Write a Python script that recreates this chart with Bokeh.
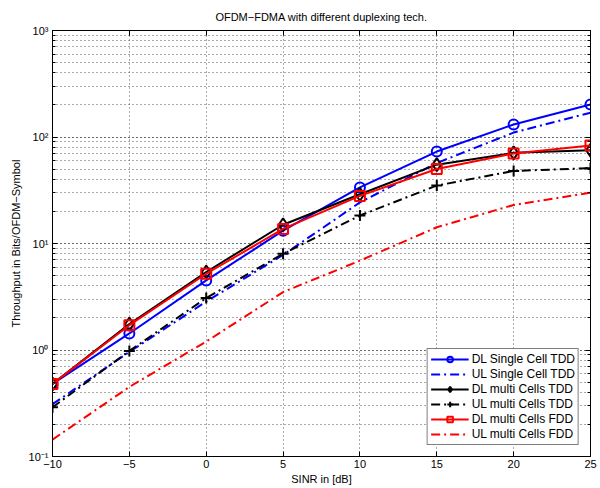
from bokeh.plotting import figure
from bokeh.models import Range1d, FixedTicker, LinearAxis, LogAxis, Legend, LegendItem, LogTicker
from bokeh.embed import file_html
from bokeh.resources import INLINE

sinr = [-10, -5, 0, 5, 10, 15, 20, 25]
dl_single_tdd = [0.48, 1.43, 4.5, 13.2, 33.6, 73, 131, 202]
ul_single_tdd = [0.31, 0.96, 2.85, 7.8, 24.3, 57, 110, 169]
dl_multi_tdd = [0.48, 1.75, 5.4, 15.0, 29, 55, 71, 75]
ul_multi_tdd = [0.29, 0.98, 3.08, 8.0, 18.3, 35, 48, 51]
dl_multi_fdd = [0.48, 1.71, 5.2, 13.7, 28, 50, 70, 83]
ul_multi_fdd = [0.144, 0.45, 1.2, 3.5, 6.9, 14.2, 23, 30]

x_ticks = [-10, -5, 0, 5, 10, 15, 20, 25]
x_labels = ["\u221210", "\u22125", "0", "5", "10", "15", "20", "25"]
y_ticks = [0.1, 1, 10, 100, 1000]
y_labels = ["10\u207b\u00b9", "10\u2070", "10\u00b9", "10\u00b2", "10\u00b3"]

FONT = "Liberation Sans"

p = figure(width=600, height=488, output_backend="svg", toolbar_location=None,
           y_axis_type="log", x_range=Range1d(-10, 25), y_range=Range1d(0.1, 1000),
           min_border_left=52, min_border_right=10, min_border_top=30, min_border_bottom=32)

p.title.text = "OFDM\u2212FDMA with different duplexing tech."
p.title.align = "center"
p.title.text_font = FONT
p.title.text_font_size = "11px"
p.title.text_font_style = "normal"
p.title.text_color = "black"
p.title.standoff = 16

p.outline_line_color = "black"
p.outline_line_width = 1
p.background_fill_color = "white"

for ax in [p.xaxis[0], p.yaxis[0]]:
    ax.major_tick_in = 5
    ax.major_tick_out = 0
    ax.minor_tick_in = 3
    ax.minor_tick_out = 0
    ax.axis_line_color = "black"
    ax.major_tick_line_color = "black"
    ax.minor_tick_line_color = "black"
    ax.major_label_text_color = "black"
    ax.axis_label_text_color = "black"
    ax.major_label_text_font = FONT
    ax.major_label_text_font_size = "11px"
    ax.axis_label_text_font = FONT
    ax.axis_label_text_font_size = "11px"
    ax.axis_label_text_font_style = "normal"

p.xaxis.ticker = FixedTicker(ticks=x_ticks)
p.xaxis.major_label_overrides = dict(zip(x_ticks, x_labels))
p.xaxis.minor_tick_line_color = None
p.xaxis.axis_label = "SINR in [dB]"
p.xaxis.axis_label_standoff = 2
p.xaxis.major_label_standoff = 3

p.yaxis.ticker = LogTicker(num_minor_ticks=10)
p.yaxis.major_label_overrides = {v: l for v, l in zip(y_ticks, y_labels)}
p.yaxis.axis_label = "Throughput in Bits/OFDM\u2212Symbol"
p.yaxis.axis_label_standoff = 4
p.yaxis.major_label_standoff = 4

top = LinearAxis(ticker=FixedTicker(ticks=x_ticks), major_label_text_font_size="1px",
                 major_label_text_color=None, major_tick_in=5, major_tick_out=0,
                 minor_tick_line_color=None, major_label_standoff=0,
                 axis_line_color="black", major_tick_line_color="black")
p.add_layout(top, "above")
right = LogAxis(ticker=LogTicker(num_minor_ticks=10), major_label_text_font_size="1px",
                major_label_text_color=None, major_tick_in=5, major_tick_out=0,
                minor_tick_in=3, minor_tick_out=0, major_label_standoff=0,
                axis_line_color="black", major_tick_line_color="black",
                minor_tick_line_color="black")
p.add_layout(right, "right")

p.xgrid.grid_line_color = "#555555"
p.xgrid.grid_line_dash = "1 3"
p.ygrid.grid_line_color = "#555555"
p.ygrid.grid_line_dash = "1 3"
p.ygrid.minor_grid_line_color = "#555555"
p.ygrid.minor_grid_line_dash = "1 3"

items = []
DD = "9 4 2 4"

r1 = p.line(sinr, dl_single_tdd, line_color="blue", line_width=2)
m1 = p.scatter(sinr, dl_single_tdd, marker="circle", size=10, fill_color=None, line_color="blue", line_width=2)
items.append(LegendItem(label="DL Single Cell TDD", renderers=[r1, m1]))

r2 = p.line(sinr, ul_single_tdd, line_color="blue", line_width=2, line_dash=DD)
items.append(LegendItem(label="UL Single Cell TDD", renderers=[r2]))

r3 = p.line(sinr, dl_multi_tdd, line_color="black", line_width=2)
m3 = p.scatter(sinr, dl_multi_tdd, marker="diamond", size=13, fill_color=None, line_color="black", line_width=2)
items.append(LegendItem(label="DL multi Cells TDD", renderers=[r3, m3]))

r4 = p.line(sinr, ul_multi_tdd, line_color="black", line_width=2, line_dash=DD)
m4 = p.scatter(sinr, ul_multi_tdd, marker="cross", size=11, line_color="black", line_width=2)
items.append(LegendItem(label="UL multi Cells TDD", renderers=[r4, m4]))

r5 = p.line(sinr, dl_multi_fdd, line_color="red", line_width=2)
m5 = p.scatter(sinr, dl_multi_fdd, marker="square", size=10, fill_color=None, line_color="red", line_width=2)
items.append(LegendItem(label="DL multi Cells FDD", renderers=[r5, m5]))

r6 = p.line(sinr, ul_multi_fdd, line_color="red", line_width=2, line_dash=DD)
items.append(LegendItem(label="UL multi Cells FDD", renderers=[r6]))

legend = Legend(items=items, location="bottom_right")
legend.label_text_font = FONT
legend.label_text_font_size = "12px"
legend.label_text_color = "black"
legend.glyph_width = 38
legend.glyph_height = 14
legend.label_height = 14
legend.spacing = 1
legend.padding = 3
legend.margin = 11
legend.label_standoff = 3
legend.border_line_color = "black"
legend.border_line_width = 1
legend.background_fill_alpha = 1
p.add_layout(legend)

open("out.html", "w").write(file_html(p, INLINE))
